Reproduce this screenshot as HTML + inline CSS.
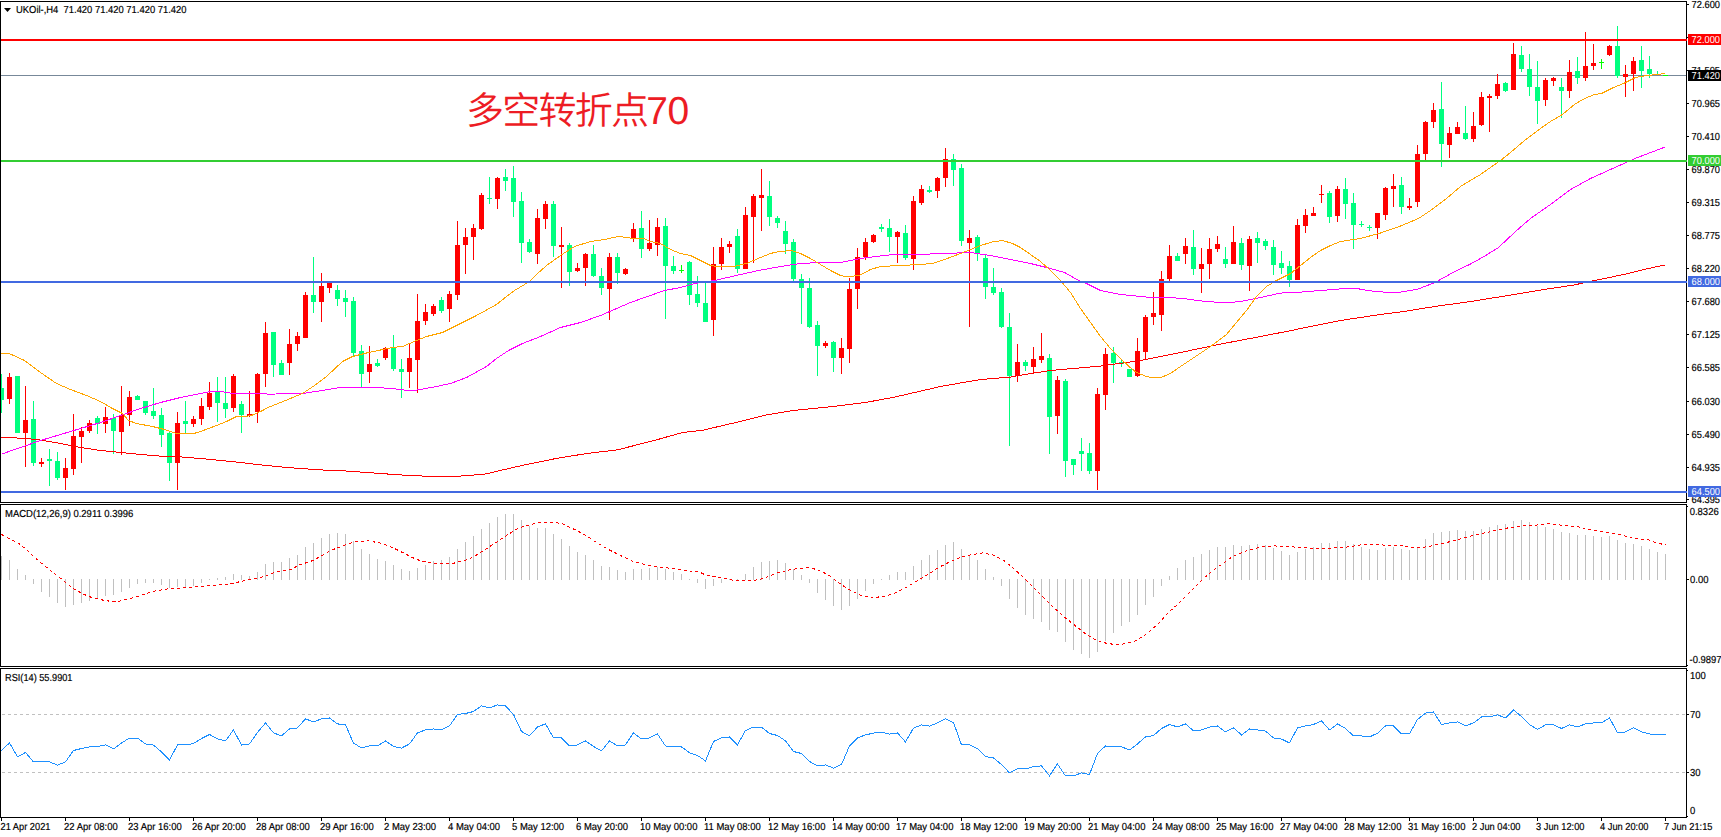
<!DOCTYPE html><html><head><meta charset="utf-8"><title>UKOil H4</title>
<style>html,body{margin:0;padding:0;background:#fff;overflow:hidden}svg{display:block}text{font-family:"Liberation Sans","Noto Sans CJK SC",sans-serif;font-size:10.2px;text-rendering:geometricPrecision;fill:#000;stroke:#000;stroke-width:0.18px}.w{fill:#fff;stroke:none}.cn{font-family:"Liberation Sans","Noto Sans CJK SC",sans-serif;font-weight:350;font-size:38px;fill:#ed1c24;stroke:none;letter-spacing:-1.75px}</style></head><body>
<svg width="1721" height="837" viewBox="0 0 1721 837" shape-rendering="crispEdges">
<rect x="0" y="0" width="1721" height="837" fill="#fff"/>
<rect x="1" y="75" width="1685" height="1" fill="#778899"/>
<rect x="1" y="374" width="1" height="39" fill="#00ff7f"/>
<rect x="1" y="388" width="3" height="12" fill="#00ff7f"/>
<rect x="9" y="373" width="1" height="31" fill="#ff0000"/>
<rect x="7" y="377" width="5" height="22" fill="#ff0000"/>
<rect x="17" y="376" width="1" height="57" fill="#00ff7f"/>
<rect x="15" y="376" width="5" height="57" fill="#00ff7f"/>
<rect x="25" y="386" width="1" height="81" fill="#ff0000"/>
<rect x="23" y="420" width="5" height="13" fill="#ff0000"/>
<rect x="33" y="401" width="1" height="65" fill="#00ff7f"/>
<rect x="31" y="419" width="5" height="44" fill="#00ff7f"/>
<rect x="41" y="458" width="1" height="9" fill="#ff0000"/>
<rect x="39" y="462" width="5" height="2" fill="#ff0000"/>
<rect x="49" y="449" width="1" height="37" fill="#00ff7f"/>
<rect x="47" y="459" width="5" height="2" fill="#00ff7f"/>
<rect x="57" y="452" width="1" height="28" fill="#00ff7f"/>
<rect x="55" y="461" width="5" height="17" fill="#00ff7f"/>
<rect x="65" y="458" width="1" height="32" fill="#ff0000"/>
<rect x="63" y="468" width="5" height="10" fill="#ff0000"/>
<rect x="73" y="414" width="1" height="61" fill="#ff0000"/>
<rect x="71" y="436" width="5" height="33" fill="#ff0000"/>
<rect x="81" y="427" width="1" height="36" fill="#ff0000"/>
<rect x="79" y="431" width="5" height="6" fill="#ff0000"/>
<rect x="89" y="420" width="1" height="13" fill="#ff0000"/>
<rect x="87" y="423" width="5" height="8" fill="#ff0000"/>
<rect x="97" y="416" width="1" height="18" fill="#00ff7f"/>
<rect x="95" y="418" width="5" height="6" fill="#00ff7f"/>
<rect x="105" y="407" width="1" height="26" fill="#ff0000"/>
<rect x="103" y="417" width="5" height="7" fill="#ff0000"/>
<rect x="113" y="414" width="1" height="40" fill="#00ff7f"/>
<rect x="111" y="418" width="5" height="13" fill="#00ff7f"/>
<rect x="121" y="386" width="1" height="69" fill="#ff0000"/>
<rect x="119" y="415" width="5" height="17" fill="#ff0000"/>
<rect x="129" y="391" width="1" height="35" fill="#ff0000"/>
<rect x="127" y="397" width="5" height="18" fill="#ff0000"/>
<rect x="137" y="395" width="1" height="5" fill="#00ff7f"/>
<rect x="135" y="396" width="5" height="4" fill="#00ff7f"/>
<rect x="145" y="401" width="1" height="14" fill="#00ff7f"/>
<rect x="143" y="401" width="5" height="12" fill="#00ff7f"/>
<rect x="153" y="388" width="1" height="31" fill="#00ff7f"/>
<rect x="151" y="411" width="5" height="5" fill="#00ff7f"/>
<rect x="161" y="408" width="1" height="39" fill="#00ff7f"/>
<rect x="159" y="415" width="5" height="20" fill="#00ff7f"/>
<rect x="169" y="432" width="1" height="49" fill="#00ff7f"/>
<rect x="167" y="433" width="5" height="30" fill="#00ff7f"/>
<rect x="177" y="412" width="1" height="78" fill="#ff0000"/>
<rect x="175" y="423" width="5" height="40" fill="#ff0000"/>
<rect x="185" y="401" width="1" height="32" fill="#00ff7f"/>
<rect x="183" y="421" width="5" height="3" fill="#00ff7f"/>
<rect x="193" y="416" width="1" height="11" fill="#ff0000"/>
<rect x="191" y="419" width="5" height="5" fill="#ff0000"/>
<rect x="201" y="398" width="1" height="27" fill="#ff0000"/>
<rect x="199" y="406" width="5" height="13" fill="#ff0000"/>
<rect x="209" y="382" width="1" height="28" fill="#ff0000"/>
<rect x="207" y="393" width="5" height="14" fill="#ff0000"/>
<rect x="217" y="377" width="1" height="45" fill="#00ff7f"/>
<rect x="215" y="392" width="5" height="11" fill="#00ff7f"/>
<rect x="225" y="377" width="1" height="41" fill="#00ff7f"/>
<rect x="223" y="403" width="5" height="6" fill="#00ff7f"/>
<rect x="233" y="374" width="1" height="38" fill="#ff0000"/>
<rect x="231" y="376" width="5" height="32" fill="#ff0000"/>
<rect x="241" y="401" width="1" height="32" fill="#00ff7f"/>
<rect x="239" y="404" width="5" height="11" fill="#00ff7f"/>
<rect x="249" y="391" width="1" height="26" fill="#ff0000"/>
<rect x="247" y="414" width="5" height="2" fill="#ff0000"/>
<rect x="257" y="373" width="1" height="50" fill="#ff0000"/>
<rect x="255" y="374" width="5" height="38" fill="#ff0000"/>
<rect x="265" y="322" width="1" height="65" fill="#ff0000"/>
<rect x="263" y="333" width="5" height="41" fill="#ff0000"/>
<rect x="273" y="332" width="1" height="45" fill="#00ff7f"/>
<rect x="271" y="332" width="5" height="33" fill="#00ff7f"/>
<rect x="281" y="360" width="1" height="15" fill="#00ff7f"/>
<rect x="279" y="363" width="5" height="12" fill="#00ff7f"/>
<rect x="289" y="329" width="1" height="46" fill="#ff0000"/>
<rect x="287" y="344" width="5" height="19" fill="#ff0000"/>
<rect x="297" y="332" width="1" height="19" fill="#ff0000"/>
<rect x="295" y="336" width="5" height="8" fill="#ff0000"/>
<rect x="305" y="292" width="1" height="46" fill="#ff0000"/>
<rect x="303" y="295" width="5" height="43" fill="#ff0000"/>
<rect x="313" y="257" width="1" height="56" fill="#00ff7f"/>
<rect x="311" y="295" width="5" height="7" fill="#00ff7f"/>
<rect x="321" y="273" width="1" height="49" fill="#ff0000"/>
<rect x="319" y="286" width="5" height="16" fill="#ff0000"/>
<rect x="329" y="281" width="1" height="12" fill="#ff0000"/>
<rect x="327" y="281" width="5" height="7" fill="#ff0000"/>
<rect x="337" y="285" width="1" height="21" fill="#00ff7f"/>
<rect x="335" y="290" width="5" height="9" fill="#00ff7f"/>
<rect x="345" y="290" width="1" height="27" fill="#00ff7f"/>
<rect x="343" y="298" width="5" height="4" fill="#00ff7f"/>
<rect x="353" y="297" width="1" height="59" fill="#00ff7f"/>
<rect x="351" y="301" width="5" height="52" fill="#00ff7f"/>
<rect x="361" y="345" width="1" height="43" fill="#00ff7f"/>
<rect x="359" y="351" width="5" height="23" fill="#00ff7f"/>
<rect x="369" y="346" width="1" height="37" fill="#ff0000"/>
<rect x="367" y="364" width="5" height="8" fill="#ff0000"/>
<rect x="377" y="359" width="1" height="8" fill="#00ff7f"/>
<rect x="375" y="363" width="5" height="3" fill="#00ff7f"/>
<rect x="385" y="347" width="1" height="13" fill="#ff0000"/>
<rect x="383" y="348" width="5" height="10" fill="#ff0000"/>
<rect x="393" y="335" width="1" height="36" fill="#00ff7f"/>
<rect x="391" y="348" width="5" height="21" fill="#00ff7f"/>
<rect x="401" y="359" width="1" height="39" fill="#00ff7f"/>
<rect x="399" y="369" width="5" height="3" fill="#00ff7f"/>
<rect x="409" y="344" width="1" height="44" fill="#ff0000"/>
<rect x="407" y="358" width="5" height="14" fill="#ff0000"/>
<rect x="417" y="294" width="1" height="99" fill="#ff0000"/>
<rect x="415" y="321" width="5" height="39" fill="#ff0000"/>
<rect x="425" y="304" width="1" height="21" fill="#ff0000"/>
<rect x="423" y="312" width="5" height="9" fill="#ff0000"/>
<rect x="433" y="304" width="1" height="12" fill="#ff0000"/>
<rect x="431" y="306" width="5" height="8" fill="#ff0000"/>
<rect x="441" y="297" width="1" height="16" fill="#00ff7f"/>
<rect x="439" y="300" width="5" height="11" fill="#00ff7f"/>
<rect x="449" y="291" width="1" height="31" fill="#ff0000"/>
<rect x="447" y="294" width="5" height="15" fill="#ff0000"/>
<rect x="457" y="221" width="1" height="79" fill="#ff0000"/>
<rect x="455" y="245" width="5" height="50" fill="#ff0000"/>
<rect x="465" y="228" width="1" height="46" fill="#ff0000"/>
<rect x="463" y="237" width="5" height="8" fill="#ff0000"/>
<rect x="473" y="224" width="1" height="36" fill="#ff0000"/>
<rect x="471" y="228" width="5" height="9" fill="#ff0000"/>
<rect x="481" y="193" width="1" height="37" fill="#ff0000"/>
<rect x="479" y="195" width="5" height="34" fill="#ff0000"/>
<rect x="489" y="177" width="1" height="27" fill="#00ff7f"/>
<rect x="487" y="198" width="5" height="1" fill="#00ff7f"/>
<rect x="497" y="177" width="1" height="32" fill="#ff0000"/>
<rect x="495" y="178" width="5" height="21" fill="#ff0000"/>
<rect x="505" y="169" width="1" height="22" fill="#00ff7f"/>
<rect x="503" y="177" width="5" height="4" fill="#00ff7f"/>
<rect x="513" y="166" width="1" height="51" fill="#00ff7f"/>
<rect x="511" y="178" width="5" height="24" fill="#00ff7f"/>
<rect x="521" y="192" width="1" height="71" fill="#00ff7f"/>
<rect x="519" y="201" width="5" height="42" fill="#00ff7f"/>
<rect x="529" y="239" width="1" height="14" fill="#00ff7f"/>
<rect x="527" y="242" width="5" height="10" fill="#00ff7f"/>
<rect x="537" y="209" width="1" height="55" fill="#ff0000"/>
<rect x="535" y="218" width="5" height="36" fill="#ff0000"/>
<rect x="545" y="201" width="1" height="28" fill="#ff0000"/>
<rect x="543" y="204" width="5" height="15" fill="#ff0000"/>
<rect x="553" y="201" width="1" height="56" fill="#00ff7f"/>
<rect x="551" y="204" width="5" height="42" fill="#00ff7f"/>
<rect x="561" y="227" width="1" height="61" fill="#ff0000"/>
<rect x="559" y="245" width="5" height="2" fill="#ff0000"/>
<rect x="569" y="243" width="1" height="43" fill="#00ff7f"/>
<rect x="567" y="245" width="5" height="27" fill="#00ff7f"/>
<rect x="577" y="263" width="1" height="9" fill="#ff0000"/>
<rect x="575" y="268" width="5" height="3" fill="#ff0000"/>
<rect x="585" y="253" width="1" height="33" fill="#ff0000"/>
<rect x="583" y="254" width="5" height="14" fill="#ff0000"/>
<rect x="593" y="245" width="1" height="32" fill="#00ff7f"/>
<rect x="591" y="254" width="5" height="22" fill="#00ff7f"/>
<rect x="601" y="268" width="1" height="27" fill="#00ff7f"/>
<rect x="599" y="276" width="5" height="12" fill="#00ff7f"/>
<rect x="609" y="253" width="1" height="67" fill="#ff0000"/>
<rect x="607" y="257" width="5" height="32" fill="#ff0000"/>
<rect x="617" y="253" width="1" height="31" fill="#00ff7f"/>
<rect x="615" y="257" width="5" height="16" fill="#00ff7f"/>
<rect x="625" y="268" width="1" height="7" fill="#ff0000"/>
<rect x="623" y="269" width="5" height="5" fill="#ff0000"/>
<rect x="633" y="223" width="1" height="19" fill="#ff0000"/>
<rect x="631" y="229" width="5" height="9" fill="#ff0000"/>
<rect x="641" y="211" width="1" height="47" fill="#00ff7f"/>
<rect x="639" y="228" width="5" height="21" fill="#00ff7f"/>
<rect x="649" y="220" width="1" height="31" fill="#ff0000"/>
<rect x="647" y="243" width="5" height="6" fill="#ff0000"/>
<rect x="657" y="218" width="1" height="38" fill="#ff0000"/>
<rect x="655" y="227" width="5" height="18" fill="#ff0000"/>
<rect x="665" y="218" width="1" height="101" fill="#00ff7f"/>
<rect x="663" y="226" width="5" height="40" fill="#00ff7f"/>
<rect x="673" y="256" width="1" height="18" fill="#00ff7f"/>
<rect x="671" y="266" width="5" height="5" fill="#00ff7f"/>
<rect x="681" y="265" width="1" height="8" fill="#00ff00"/>
<rect x="679" y="270" width="5" height="1" fill="#00ff00"/>
<rect x="689" y="261" width="1" height="44" fill="#00ff7f"/>
<rect x="687" y="262" width="5" height="33" fill="#00ff7f"/>
<rect x="697" y="276" width="1" height="31" fill="#00ff7f"/>
<rect x="695" y="294" width="5" height="9" fill="#00ff7f"/>
<rect x="705" y="283" width="1" height="39" fill="#00ff7f"/>
<rect x="703" y="303" width="5" height="19" fill="#00ff7f"/>
<rect x="713" y="247" width="1" height="89" fill="#ff0000"/>
<rect x="711" y="264" width="5" height="56" fill="#ff0000"/>
<rect x="721" y="238" width="1" height="32" fill="#ff0000"/>
<rect x="719" y="247" width="5" height="17" fill="#ff0000"/>
<rect x="729" y="241" width="1" height="12" fill="#ff0000"/>
<rect x="727" y="244" width="5" height="3" fill="#ff0000"/>
<rect x="737" y="229" width="1" height="44" fill="#00ff7f"/>
<rect x="735" y="236" width="5" height="33" fill="#00ff7f"/>
<rect x="745" y="207" width="1" height="62" fill="#ff0000"/>
<rect x="743" y="215" width="5" height="54" fill="#ff0000"/>
<rect x="753" y="194" width="1" height="69" fill="#ff0000"/>
<rect x="751" y="196" width="5" height="21" fill="#ff0000"/>
<rect x="761" y="169" width="1" height="62" fill="#ff0000"/>
<rect x="759" y="195" width="5" height="3" fill="#ff0000"/>
<rect x="769" y="181" width="1" height="45" fill="#00ff7f"/>
<rect x="767" y="196" width="5" height="21" fill="#00ff7f"/>
<rect x="777" y="216" width="1" height="12" fill="#00ff7f"/>
<rect x="775" y="218" width="5" height="5" fill="#00ff7f"/>
<rect x="785" y="221" width="1" height="33" fill="#00ff7f"/>
<rect x="783" y="231" width="5" height="13" fill="#00ff7f"/>
<rect x="793" y="239" width="1" height="42" fill="#00ff7f"/>
<rect x="791" y="242" width="5" height="37" fill="#00ff7f"/>
<rect x="801" y="274" width="1" height="50" fill="#00ff7f"/>
<rect x="799" y="279" width="5" height="9" fill="#00ff7f"/>
<rect x="809" y="278" width="1" height="50" fill="#00ff7f"/>
<rect x="807" y="288" width="5" height="39" fill="#00ff7f"/>
<rect x="817" y="321" width="1" height="55" fill="#00ff7f"/>
<rect x="815" y="325" width="5" height="21" fill="#00ff7f"/>
<rect x="825" y="341" width="1" height="7" fill="#ff0000"/>
<rect x="823" y="343" width="5" height="3" fill="#ff0000"/>
<rect x="833" y="341" width="1" height="31" fill="#00ff7f"/>
<rect x="831" y="342" width="5" height="16" fill="#00ff7f"/>
<rect x="841" y="338" width="1" height="36" fill="#ff0000"/>
<rect x="839" y="348" width="5" height="10" fill="#ff0000"/>
<rect x="849" y="278" width="1" height="85" fill="#ff0000"/>
<rect x="847" y="289" width="5" height="60" fill="#ff0000"/>
<rect x="857" y="248" width="1" height="61" fill="#ff0000"/>
<rect x="855" y="257" width="5" height="32" fill="#ff0000"/>
<rect x="865" y="238" width="1" height="22" fill="#ff0000"/>
<rect x="863" y="242" width="5" height="15" fill="#ff0000"/>
<rect x="873" y="234" width="1" height="9" fill="#ff0000"/>
<rect x="871" y="235" width="5" height="7" fill="#ff0000"/>
<rect x="881" y="224" width="1" height="8" fill="#00ff7f"/>
<rect x="879" y="227" width="5" height="2" fill="#00ff7f"/>
<rect x="889" y="219" width="1" height="33" fill="#00ff7f"/>
<rect x="887" y="228" width="5" height="9" fill="#00ff7f"/>
<rect x="897" y="231" width="1" height="32" fill="#ff0000"/>
<rect x="895" y="232" width="5" height="5" fill="#ff0000"/>
<rect x="905" y="225" width="1" height="35" fill="#00ff7f"/>
<rect x="903" y="233" width="5" height="25" fill="#00ff7f"/>
<rect x="913" y="196" width="1" height="74" fill="#ff0000"/>
<rect x="911" y="201" width="5" height="58" fill="#ff0000"/>
<rect x="921" y="185" width="1" height="20" fill="#ff0000"/>
<rect x="919" y="189" width="5" height="14" fill="#ff0000"/>
<rect x="929" y="186" width="1" height="7" fill="#00ff7f"/>
<rect x="927" y="190" width="5" height="2" fill="#00ff7f"/>
<rect x="937" y="177" width="1" height="21" fill="#ff0000"/>
<rect x="935" y="178" width="5" height="13" fill="#ff0000"/>
<rect x="945" y="148" width="1" height="39" fill="#ff0000"/>
<rect x="943" y="159" width="5" height="19" fill="#ff0000"/>
<rect x="953" y="154" width="1" height="32" fill="#00ff7f"/>
<rect x="951" y="159" width="5" height="11" fill="#00ff7f"/>
<rect x="961" y="164" width="1" height="82" fill="#00ff7f"/>
<rect x="959" y="168" width="5" height="73" fill="#00ff7f"/>
<rect x="969" y="230" width="1" height="97" fill="#ff0000"/>
<rect x="967" y="238" width="5" height="5" fill="#ff0000"/>
<rect x="977" y="235" width="1" height="26" fill="#00ff7f"/>
<rect x="975" y="237" width="5" height="16" fill="#00ff7f"/>
<rect x="985" y="255" width="1" height="44" fill="#00ff7f"/>
<rect x="983" y="258" width="5" height="29" fill="#00ff7f"/>
<rect x="993" y="268" width="1" height="27" fill="#00ff7f"/>
<rect x="991" y="287" width="5" height="6" fill="#00ff7f"/>
<rect x="1001" y="288" width="1" height="40" fill="#00ff7f"/>
<rect x="999" y="292" width="5" height="35" fill="#00ff7f"/>
<rect x="1009" y="313" width="1" height="133" fill="#00ff7f"/>
<rect x="1007" y="327" width="5" height="49" fill="#00ff7f"/>
<rect x="1017" y="344" width="1" height="38" fill="#ff0000"/>
<rect x="1015" y="362" width="5" height="14" fill="#ff0000"/>
<rect x="1025" y="360" width="1" height="11" fill="#00ff7f"/>
<rect x="1023" y="362" width="5" height="4" fill="#00ff7f"/>
<rect x="1033" y="347" width="1" height="26" fill="#ff0000"/>
<rect x="1031" y="359" width="5" height="8" fill="#ff0000"/>
<rect x="1041" y="333" width="1" height="30" fill="#ff0000"/>
<rect x="1039" y="356" width="5" height="4" fill="#ff0000"/>
<rect x="1049" y="354" width="1" height="100" fill="#00ff7f"/>
<rect x="1047" y="358" width="5" height="59" fill="#00ff7f"/>
<rect x="1057" y="376" width="1" height="58" fill="#ff0000"/>
<rect x="1055" y="380" width="5" height="36" fill="#ff0000"/>
<rect x="1065" y="379" width="1" height="98" fill="#00ff7f"/>
<rect x="1063" y="381" width="5" height="80" fill="#00ff7f"/>
<rect x="1073" y="459" width="1" height="16" fill="#00ff7f"/>
<rect x="1071" y="459" width="5" height="6" fill="#00ff7f"/>
<rect x="1081" y="438" width="1" height="33" fill="#00ff7f"/>
<rect x="1079" y="451" width="5" height="3" fill="#00ff7f"/>
<rect x="1089" y="443" width="1" height="31" fill="#00ff7f"/>
<rect x="1087" y="453" width="5" height="18" fill="#00ff7f"/>
<rect x="1097" y="388" width="1" height="102" fill="#ff0000"/>
<rect x="1095" y="394" width="5" height="77" fill="#ff0000"/>
<rect x="1105" y="348" width="1" height="62" fill="#ff0000"/>
<rect x="1103" y="354" width="5" height="41" fill="#ff0000"/>
<rect x="1113" y="347" width="1" height="36" fill="#00ff7f"/>
<rect x="1111" y="353" width="5" height="10" fill="#00ff7f"/>
<rect x="1121" y="359" width="1" height="8" fill="#00ff7f"/>
<rect x="1119" y="362" width="5" height="2" fill="#00ff7f"/>
<rect x="1129" y="369" width="1" height="8" fill="#00ff7f"/>
<rect x="1127" y="369" width="5" height="8" fill="#00ff7f"/>
<rect x="1137" y="338" width="1" height="39" fill="#ff0000"/>
<rect x="1135" y="351" width="5" height="25" fill="#ff0000"/>
<rect x="1145" y="315" width="1" height="45" fill="#ff0000"/>
<rect x="1143" y="317" width="5" height="35" fill="#ff0000"/>
<rect x="1153" y="292" width="1" height="33" fill="#ff0000"/>
<rect x="1151" y="313" width="5" height="4" fill="#ff0000"/>
<rect x="1161" y="271" width="1" height="60" fill="#ff0000"/>
<rect x="1159" y="279" width="5" height="36" fill="#ff0000"/>
<rect x="1169" y="245" width="1" height="36" fill="#ff0000"/>
<rect x="1167" y="256" width="5" height="23" fill="#ff0000"/>
<rect x="1177" y="253" width="1" height="8" fill="#00ff7f"/>
<rect x="1175" y="256" width="5" height="5" fill="#00ff7f"/>
<rect x="1185" y="238" width="1" height="26" fill="#ff0000"/>
<rect x="1183" y="246" width="5" height="8" fill="#ff0000"/>
<rect x="1193" y="230" width="1" height="45" fill="#00ff7f"/>
<rect x="1191" y="247" width="5" height="22" fill="#00ff7f"/>
<rect x="1201" y="248" width="1" height="45" fill="#ff0000"/>
<rect x="1199" y="264" width="5" height="5" fill="#ff0000"/>
<rect x="1209" y="238" width="1" height="41" fill="#ff0000"/>
<rect x="1207" y="249" width="5" height="15" fill="#ff0000"/>
<rect x="1217" y="236" width="1" height="16" fill="#ff0000"/>
<rect x="1215" y="244" width="5" height="5" fill="#ff0000"/>
<rect x="1225" y="247" width="1" height="21" fill="#00ff7f"/>
<rect x="1223" y="259" width="5" height="5" fill="#00ff7f"/>
<rect x="1233" y="226" width="1" height="38" fill="#ff0000"/>
<rect x="1231" y="242" width="5" height="22" fill="#ff0000"/>
<rect x="1241" y="238" width="1" height="32" fill="#00ff7f"/>
<rect x="1239" y="243" width="5" height="22" fill="#00ff7f"/>
<rect x="1249" y="236" width="1" height="55" fill="#ff0000"/>
<rect x="1247" y="239" width="5" height="27" fill="#ff0000"/>
<rect x="1257" y="232" width="1" height="31" fill="#00ff7f"/>
<rect x="1255" y="238" width="5" height="5" fill="#00ff7f"/>
<rect x="1265" y="239" width="1" height="11" fill="#00ff7f"/>
<rect x="1263" y="241" width="5" height="5" fill="#00ff7f"/>
<rect x="1273" y="240" width="1" height="35" fill="#00ff7f"/>
<rect x="1271" y="247" width="5" height="18" fill="#00ff7f"/>
<rect x="1281" y="251" width="1" height="23" fill="#00ff7f"/>
<rect x="1279" y="263" width="5" height="5" fill="#00ff7f"/>
<rect x="1289" y="261" width="1" height="26" fill="#00ff7f"/>
<rect x="1287" y="266" width="5" height="14" fill="#00ff7f"/>
<rect x="1297" y="219" width="1" height="61" fill="#ff0000"/>
<rect x="1295" y="225" width="5" height="55" fill="#ff0000"/>
<rect x="1305" y="209" width="1" height="24" fill="#ff0000"/>
<rect x="1303" y="215" width="5" height="11" fill="#ff0000"/>
<rect x="1313" y="207" width="1" height="9" fill="#ff0000"/>
<rect x="1311" y="213" width="5" height="3" fill="#ff0000"/>
<rect x="1321" y="185" width="1" height="18" fill="#ff0000"/>
<rect x="1319" y="194" width="5" height="1" fill="#ff0000"/>
<rect x="1329" y="191" width="1" height="32" fill="#00ff7f"/>
<rect x="1327" y="193" width="5" height="24" fill="#00ff7f"/>
<rect x="1337" y="186" width="1" height="36" fill="#ff0000"/>
<rect x="1335" y="189" width="5" height="27" fill="#ff0000"/>
<rect x="1345" y="178" width="1" height="41" fill="#00ff7f"/>
<rect x="1343" y="189" width="5" height="15" fill="#00ff7f"/>
<rect x="1353" y="193" width="1" height="56" fill="#00ff7f"/>
<rect x="1351" y="203" width="5" height="22" fill="#00ff7f"/>
<rect x="1361" y="221" width="1" height="6" fill="#00ff7f"/>
<rect x="1359" y="224" width="5" height="1" fill="#00ff7f"/>
<rect x="1369" y="225" width="1" height="6" fill="#00ff7f"/>
<rect x="1367" y="227" width="5" height="1" fill="#00ff7f"/>
<rect x="1377" y="213" width="1" height="26" fill="#ff0000"/>
<rect x="1375" y="213" width="5" height="15" fill="#ff0000"/>
<rect x="1385" y="187" width="1" height="33" fill="#ff0000"/>
<rect x="1383" y="188" width="5" height="27" fill="#ff0000"/>
<rect x="1393" y="174" width="1" height="33" fill="#ff0000"/>
<rect x="1391" y="186" width="5" height="3" fill="#ff0000"/>
<rect x="1401" y="177" width="1" height="37" fill="#00ff7f"/>
<rect x="1399" y="185" width="5" height="22" fill="#00ff7f"/>
<rect x="1409" y="198" width="1" height="12" fill="#ff0000"/>
<rect x="1407" y="206" width="5" height="2" fill="#ff0000"/>
<rect x="1417" y="145" width="1" height="62" fill="#ff0000"/>
<rect x="1415" y="154" width="5" height="48" fill="#ff0000"/>
<rect x="1425" y="121" width="1" height="39" fill="#ff0000"/>
<rect x="1423" y="122" width="5" height="32" fill="#ff0000"/>
<rect x="1433" y="103" width="1" height="25" fill="#ff0000"/>
<rect x="1431" y="110" width="5" height="12" fill="#ff0000"/>
<rect x="1441" y="82" width="1" height="85" fill="#00ff7f"/>
<rect x="1439" y="109" width="5" height="35" fill="#00ff7f"/>
<rect x="1449" y="127" width="1" height="31" fill="#ff0000"/>
<rect x="1447" y="133" width="5" height="12" fill="#ff0000"/>
<rect x="1457" y="122" width="1" height="12" fill="#ff0000"/>
<rect x="1455" y="127" width="5" height="7" fill="#ff0000"/>
<rect x="1465" y="106" width="1" height="34" fill="#00ff7f"/>
<rect x="1463" y="133" width="5" height="6" fill="#00ff7f"/>
<rect x="1473" y="112" width="1" height="30" fill="#ff0000"/>
<rect x="1471" y="126" width="5" height="13" fill="#ff0000"/>
<rect x="1481" y="92" width="1" height="34" fill="#ff0000"/>
<rect x="1479" y="97" width="5" height="28" fill="#ff0000"/>
<rect x="1489" y="94" width="1" height="38" fill="#ff0000"/>
<rect x="1487" y="96" width="5" height="2" fill="#ff0000"/>
<rect x="1497" y="74" width="1" height="25" fill="#ff0000"/>
<rect x="1495" y="84" width="5" height="12" fill="#ff0000"/>
<rect x="1505" y="82" width="1" height="10" fill="#00ff7f"/>
<rect x="1503" y="83" width="5" height="8" fill="#00ff7f"/>
<rect x="1513" y="43" width="1" height="47" fill="#ff0000"/>
<rect x="1511" y="54" width="5" height="36" fill="#ff0000"/>
<rect x="1521" y="46" width="1" height="26" fill="#00ff7f"/>
<rect x="1519" y="55" width="5" height="14" fill="#00ff7f"/>
<rect x="1529" y="54" width="1" height="42" fill="#00ff7f"/>
<rect x="1527" y="69" width="5" height="18" fill="#00ff7f"/>
<rect x="1537" y="61" width="1" height="63" fill="#00ff7f"/>
<rect x="1535" y="87" width="5" height="14" fill="#00ff7f"/>
<rect x="1545" y="78" width="1" height="28" fill="#ff0000"/>
<rect x="1543" y="80" width="5" height="20" fill="#ff0000"/>
<rect x="1553" y="77" width="1" height="9" fill="#ff0000"/>
<rect x="1551" y="78" width="5" height="3" fill="#ff0000"/>
<rect x="1561" y="78" width="1" height="40" fill="#00ff7f"/>
<rect x="1559" y="87" width="5" height="4" fill="#00ff7f"/>
<rect x="1569" y="60" width="1" height="38" fill="#ff0000"/>
<rect x="1567" y="72" width="5" height="19" fill="#ff0000"/>
<rect x="1577" y="57" width="1" height="27" fill="#00ff7f"/>
<rect x="1575" y="71" width="5" height="7" fill="#00ff7f"/>
<rect x="1585" y="32" width="1" height="49" fill="#ff0000"/>
<rect x="1583" y="66" width="5" height="12" fill="#ff0000"/>
<rect x="1593" y="44" width="1" height="26" fill="#ff0000"/>
<rect x="1591" y="63" width="5" height="3" fill="#ff0000"/>
<rect x="1601" y="59" width="1" height="10" fill="#00ff00"/>
<rect x="1599" y="62" width="5" height="1" fill="#00ff00"/>
<rect x="1609" y="45" width="1" height="11" fill="#ff0000"/>
<rect x="1607" y="46" width="5" height="9" fill="#ff0000"/>
<rect x="1617" y="26" width="1" height="52" fill="#00ff7f"/>
<rect x="1615" y="46" width="5" height="30" fill="#00ff7f"/>
<rect x="1625" y="65" width="1" height="32" fill="#ff0000"/>
<rect x="1623" y="74" width="5" height="3" fill="#ff0000"/>
<rect x="1633" y="57" width="1" height="34" fill="#ff0000"/>
<rect x="1631" y="61" width="5" height="13" fill="#ff0000"/>
<rect x="1641" y="46" width="1" height="42" fill="#00ff7f"/>
<rect x="1639" y="60" width="5" height="11" fill="#00ff7f"/>
<rect x="1649" y="56" width="1" height="22" fill="#00ff7f"/>
<rect x="1647" y="69" width="5" height="5" fill="#00ff7f"/>
<rect x="1657" y="71" width="1" height="4" fill="#00ff7f"/>
<rect x="1655" y="74" width="5" height="1" fill="#00ff7f"/>
<rect x="1665" y="75" width="1" height="1" fill="#00ff00"/>
<rect x="1663" y="75" width="5" height="1" fill="#00ff00"/>
<polyline points="0.5,437.1 26.5,438.5 40.5,440.1 60.5,443.5 80.5,447.5 100.5,450.5 120.5,452.5 140.5,454.5 160.5,456.1 180.5,456.9 200.5,458.5 220.5,460.5 240.5,462.5 260.5,464.9 280.5,466.9 300.5,468.5 320.5,469.9 344.5,470.9 376.5,473.2 399.5,474.9 425.5,476.2 458.5,476.2 484.5,474.2 520.5,465.8 555.5,458.6 585.5,453.7 617.5,449.8 653.5,440.7 682.5,432.5 702.5,430.3 734.5,422.8 767.5,414.7 793.5,410.5 832.5,406.5 865.5,402.5 895.5,396.9 940.5,386.5 980.5,379.5 1010.5,377.1 1024.5,374.5 1050.5,370.5 1100.5,366.1 1140.5,360.5 1180.5,352.5 1220.5,344.1 1260.5,336.5 1291.5,330.5 1300.5,328.5 1340.5,320.5 1380.5,314.5 1400.5,312.0 1435.5,306.4 1470.5,301.5 1505.5,295.9 1539.5,290.2 1574.5,284.9 1592.5,280.9 1609.5,277.5 1627.5,273.6 1644.5,269.3 1665.5,264.9" fill="none" stroke="#ff0000" stroke-width="1" />
<polyline points="1.5,454.1 20.5,447.5 40.5,440.5 60.5,434.5 80.5,428.5 100.5,422.5 120.5,415.5 140.5,408.5 160.5,402.5 180.5,397.5 200.5,393.5 210.5,391.5 220.5,391.5 230.5,393.1 250.5,393.5 270.5,394.1 302.5,393.5 322.5,390.5 342.5,387.1 368.5,387.1 392.5,388.5 410.5,390.9 420.5,389.5 436.5,386.5 450.5,383.5 466.5,377.5 486.5,366.5 496.5,358.5 508.5,350.5 522.5,343.5 540.5,336.5 560.5,327.5 580.5,322.5 600.5,315.5 630.5,302.5 664.5,290.5 680.5,287.5 694.5,283.5 714.5,280.5 740.5,274.5 760.5,270.1 780.5,266.5 800.5,263.5 820.5,262.5 840.5,262.5 860.5,258.5 880.5,255.9 890.5,254.9 920.5,254.5 940.5,253.5 960.5,252.9 970.5,252.5 980.5,254.1 990.5,255.5 1010.5,259.5 1030.5,263.5 1050.5,268.5 1064.5,272.5 1080.5,281.5 1086.5,283.5 1100.5,290.5 1120.5,294.5 1150.5,297.5 1180.5,298.1 1200.5,300.9 1224.5,302.9 1240.5,301.5 1260.5,297.5 1280.5,293.1 1300.5,292.1 1320.5,290.5 1340.5,288.9 1356.5,288.5 1370.5,290.9 1384.5,292.1 1400.5,292.1 1417.5,289.3 1435.5,282.3 1452.5,272.7 1470.5,264.0 1484.5,256.2 1498.5,247.5 1515.5,231.5 1530.5,218.5 1550.5,204.5 1570.5,189.5 1590.5,178.5 1610.5,169.5 1630.5,160.5 1637.5,157.5 1665.5,146.9" fill="none" stroke="#ff00ff" stroke-width="1" />
<polyline points="1.5,353.1 10.5,354.1 24.5,360.5 40.5,372.5 56.5,383.5 70.5,389.5 86.5,395.5 100.5,401.5 112.5,408.5 122.5,413.5 128.5,420.5 136.5,423.5 152.5,426.5 164.5,429.5 176.5,433.5 192.5,433.9 200.5,431.5 216.5,425.5 226.5,421.5 236.5,416.5 250.5,415.9 260.5,411.5 269.5,406.9 285.5,400.5 302.5,393.5 314.5,385.5 326.5,376.5 342.5,361.5 352.5,356.5 368.5,352.5 392.5,347.5 402.5,346.5 416.5,340.5 426.5,336.5 442.5,332.5 456.5,325.5 476.5,315.5 496.5,304.5 506.5,296.5 514.5,290.5 524.5,284.5 529.5,281.5 536.5,274.5 546.5,265.5 560.5,255.5 574.5,246.5 590.5,241.5 604.5,239.5 616.5,236.9 622.5,236.9 630.5,238.1 642.5,238.1 650.5,241.5 660.5,243.5 670.5,249.5 680.5,253.5 690.5,255.5 700.5,260.5 710.5,265.5 720.5,266.9 732.5,266.9 746.5,263.5 760.5,257.5 770.5,253.5 780.5,251.1 792.5,250.9 800.5,253.5 810.5,258.5 820.5,264.5 830.5,270.5 840.5,275.5 848.5,276.9 860.5,274.9 870.5,269.5 880.5,266.5 900.5,265.5 920.5,264.5 932.5,263.5 944.5,259.5 960.5,253.5 970.5,249.5 980.5,245.5 992.5,241.9 1002.5,240.5 1012.5,243.5 1020.5,247.5 1030.5,254.5 1040.5,261.5 1050.5,270.5 1060.5,280.5 1070.5,292.5 1080.5,308.5 1090.5,322.5 1100.5,336.5 1110.5,348.5 1120.5,358.5 1129.5,366.9 1136.5,372.5 1146.5,376.5 1154.5,377.9 1162.5,376.9 1170.5,373.5 1180.5,366.5 1192.5,358.5 1210.5,346.5 1226.5,334.5 1236.5,322.5 1246.5,310.5 1256.5,296.5 1266.5,286.5 1276.5,280.5 1290.5,273.5 1300.5,265.5 1310.5,257.5 1320.5,250.5 1330.5,245.5 1340.5,241.5 1360.5,238.5 1380.5,233.0 1400.5,226.0 1418.5,218.5 1430.5,210.5 1446.5,198.5 1460.5,186.5 1480.5,174.5 1500.5,160.5 1510.5,152.5 1524.5,140.5 1540.5,128.5 1550.5,121.5 1562.5,114.5 1574.5,104.5 1584.5,98.5 1594.5,94.5 1601.5,93.5 1613.5,87.5 1623.5,83.5 1635.5,77.5 1647.5,75.5 1657.5,74.5 1665.5,73.5" fill="none" stroke="#ffa500" stroke-width="1" />
<rect x="1" y="556" width="1" height="24" fill="#c0c0c0"/>
<rect x="9" y="560" width="1" height="20" fill="#c0c0c0"/>
<rect x="17" y="569" width="1" height="11" fill="#c0c0c0"/>
<rect x="25" y="575" width="1" height="5" fill="#c0c0c0"/>
<rect x="33" y="579" width="1" height="5" fill="#c0c0c0"/>
<rect x="41" y="579" width="1" height="13" fill="#c0c0c0"/>
<rect x="49" y="579" width="1" height="18" fill="#c0c0c0"/>
<rect x="57" y="579" width="1" height="24" fill="#c0c0c0"/>
<rect x="65" y="579" width="1" height="28" fill="#c0c0c0"/>
<rect x="73" y="579" width="1" height="26" fill="#c0c0c0"/>
<rect x="81" y="579" width="1" height="24" fill="#c0c0c0"/>
<rect x="89" y="579" width="1" height="22" fill="#c0c0c0"/>
<rect x="97" y="579" width="1" height="19" fill="#c0c0c0"/>
<rect x="105" y="579" width="1" height="17" fill="#c0c0c0"/>
<rect x="113" y="579" width="1" height="16" fill="#c0c0c0"/>
<rect x="121" y="579" width="1" height="13" fill="#c0c0c0"/>
<rect x="129" y="579" width="1" height="9" fill="#c0c0c0"/>
<rect x="137" y="579" width="1" height="5" fill="#c0c0c0"/>
<rect x="145" y="579" width="1" height="4" fill="#c0c0c0"/>
<rect x="153" y="579" width="1" height="4" fill="#c0c0c0"/>
<rect x="161" y="579" width="1" height="6" fill="#c0c0c0"/>
<rect x="169" y="579" width="1" height="9" fill="#c0c0c0"/>
<rect x="177" y="579" width="1" height="8" fill="#c0c0c0"/>
<rect x="185" y="579" width="1" height="8" fill="#c0c0c0"/>
<rect x="193" y="579" width="1" height="7" fill="#c0c0c0"/>
<rect x="201" y="579" width="1" height="4" fill="#c0c0c0"/>
<rect x="209" y="579" width="1" height="1" fill="#c0c0c0"/>
<rect x="217" y="578" width="1" height="2" fill="#c0c0c0"/>
<rect x="225" y="577" width="1" height="3" fill="#c0c0c0"/>
<rect x="233" y="574" width="1" height="6" fill="#c0c0c0"/>
<rect x="241" y="575" width="1" height="5" fill="#c0c0c0"/>
<rect x="249" y="576" width="1" height="4" fill="#c0c0c0"/>
<rect x="257" y="572" width="1" height="8" fill="#c0c0c0"/>
<rect x="265" y="564" width="1" height="16" fill="#c0c0c0"/>
<rect x="273" y="562" width="1" height="18" fill="#c0c0c0"/>
<rect x="281" y="562" width="1" height="18" fill="#c0c0c0"/>
<rect x="289" y="558" width="1" height="22" fill="#c0c0c0"/>
<rect x="297" y="555" width="1" height="25" fill="#c0c0c0"/>
<rect x="305" y="547" width="1" height="33" fill="#c0c0c0"/>
<rect x="313" y="543" width="1" height="37" fill="#c0c0c0"/>
<rect x="321" y="538" width="1" height="42" fill="#c0c0c0"/>
<rect x="329" y="534" width="1" height="46" fill="#c0c0c0"/>
<rect x="337" y="533" width="1" height="47" fill="#c0c0c0"/>
<rect x="345" y="534" width="1" height="46" fill="#c0c0c0"/>
<rect x="353" y="541" width="1" height="39" fill="#c0c0c0"/>
<rect x="361" y="549" width="1" height="31" fill="#c0c0c0"/>
<rect x="369" y="554" width="1" height="26" fill="#c0c0c0"/>
<rect x="377" y="559" width="1" height="21" fill="#c0c0c0"/>
<rect x="385" y="561" width="1" height="19" fill="#c0c0c0"/>
<rect x="393" y="565" width="1" height="15" fill="#c0c0c0"/>
<rect x="401" y="569" width="1" height="11" fill="#c0c0c0"/>
<rect x="409" y="571" width="1" height="9" fill="#c0c0c0"/>
<rect x="417" y="568" width="1" height="12" fill="#c0c0c0"/>
<rect x="425" y="565" width="1" height="15" fill="#c0c0c0"/>
<rect x="433" y="561" width="1" height="19" fill="#c0c0c0"/>
<rect x="441" y="560" width="1" height="20" fill="#c0c0c0"/>
<rect x="449" y="557" width="1" height="23" fill="#c0c0c0"/>
<rect x="457" y="549" width="1" height="31" fill="#c0c0c0"/>
<rect x="465" y="542" width="1" height="38" fill="#c0c0c0"/>
<rect x="473" y="536" width="1" height="44" fill="#c0c0c0"/>
<rect x="481" y="529" width="1" height="51" fill="#c0c0c0"/>
<rect x="489" y="523" width="1" height="57" fill="#c0c0c0"/>
<rect x="497" y="517" width="1" height="63" fill="#c0c0c0"/>
<rect x="505" y="514" width="1" height="66" fill="#c0c0c0"/>
<rect x="513" y="514" width="1" height="66" fill="#c0c0c0"/>
<rect x="521" y="520" width="1" height="60" fill="#c0c0c0"/>
<rect x="529" y="526" width="1" height="54" fill="#c0c0c0"/>
<rect x="537" y="528" width="1" height="52" fill="#c0c0c0"/>
<rect x="545" y="528" width="1" height="52" fill="#c0c0c0"/>
<rect x="553" y="534" width="1" height="46" fill="#c0c0c0"/>
<rect x="561" y="539" width="1" height="41" fill="#c0c0c0"/>
<rect x="569" y="546" width="1" height="34" fill="#c0c0c0"/>
<rect x="577" y="552" width="1" height="28" fill="#c0c0c0"/>
<rect x="585" y="555" width="1" height="25" fill="#c0c0c0"/>
<rect x="593" y="560" width="1" height="20" fill="#c0c0c0"/>
<rect x="601" y="566" width="1" height="14" fill="#c0c0c0"/>
<rect x="609" y="567" width="1" height="13" fill="#c0c0c0"/>
<rect x="617" y="570" width="1" height="10" fill="#c0c0c0"/>
<rect x="625" y="572" width="1" height="8" fill="#c0c0c0"/>
<rect x="633" y="569" width="1" height="11" fill="#c0c0c0"/>
<rect x="641" y="569" width="1" height="11" fill="#c0c0c0"/>
<rect x="649" y="568" width="1" height="12" fill="#c0c0c0"/>
<rect x="657" y="567" width="1" height="13" fill="#c0c0c0"/>
<rect x="665" y="569" width="1" height="11" fill="#c0c0c0"/>
<rect x="673" y="572" width="1" height="8" fill="#c0c0c0"/>
<rect x="681" y="574" width="1" height="6" fill="#c0c0c0"/>
<rect x="689" y="579" width="1" height="1" fill="#c0c0c0"/>
<rect x="697" y="579" width="1" height="4" fill="#c0c0c0"/>
<rect x="705" y="579" width="1" height="10" fill="#c0c0c0"/>
<rect x="713" y="579" width="1" height="7" fill="#c0c0c0"/>
<rect x="721" y="579" width="1" height="4" fill="#c0c0c0"/>
<rect x="729" y="579" width="1" height="1" fill="#c0c0c0"/>
<rect x="737" y="579" width="1" height="1" fill="#c0c0c0"/>
<rect x="745" y="574" width="1" height="6" fill="#c0c0c0"/>
<rect x="753" y="567" width="1" height="13" fill="#c0c0c0"/>
<rect x="761" y="562" width="1" height="18" fill="#c0c0c0"/>
<rect x="769" y="561" width="1" height="19" fill="#c0c0c0"/>
<rect x="777" y="560" width="1" height="20" fill="#c0c0c0"/>
<rect x="785" y="563" width="1" height="17" fill="#c0c0c0"/>
<rect x="793" y="569" width="1" height="11" fill="#c0c0c0"/>
<rect x="801" y="575" width="1" height="5" fill="#c0c0c0"/>
<rect x="809" y="579" width="1" height="4" fill="#c0c0c0"/>
<rect x="817" y="579" width="1" height="14" fill="#c0c0c0"/>
<rect x="825" y="579" width="1" height="21" fill="#c0c0c0"/>
<rect x="833" y="579" width="1" height="27" fill="#c0c0c0"/>
<rect x="841" y="579" width="1" height="31" fill="#c0c0c0"/>
<rect x="849" y="579" width="1" height="27" fill="#c0c0c0"/>
<rect x="857" y="579" width="1" height="20" fill="#c0c0c0"/>
<rect x="865" y="579" width="1" height="12" fill="#c0c0c0"/>
<rect x="873" y="579" width="1" height="5" fill="#c0c0c0"/>
<rect x="881" y="579" width="1" height="1" fill="#c0c0c0"/>
<rect x="889" y="575" width="1" height="5" fill="#c0c0c0"/>
<rect x="897" y="572" width="1" height="8" fill="#c0c0c0"/>
<rect x="905" y="572" width="1" height="8" fill="#c0c0c0"/>
<rect x="913" y="566" width="1" height="14" fill="#c0c0c0"/>
<rect x="921" y="560" width="1" height="20" fill="#c0c0c0"/>
<rect x="929" y="555" width="1" height="25" fill="#c0c0c0"/>
<rect x="937" y="550" width="1" height="30" fill="#c0c0c0"/>
<rect x="945" y="545" width="1" height="35" fill="#c0c0c0"/>
<rect x="953" y="542" width="1" height="38" fill="#c0c0c0"/>
<rect x="961" y="549" width="1" height="31" fill="#c0c0c0"/>
<rect x="969" y="555" width="1" height="25" fill="#c0c0c0"/>
<rect x="977" y="560" width="1" height="20" fill="#c0c0c0"/>
<rect x="985" y="569" width="1" height="11" fill="#c0c0c0"/>
<rect x="993" y="577" width="1" height="3" fill="#c0c0c0"/>
<rect x="1001" y="579" width="1" height="7" fill="#c0c0c0"/>
<rect x="1009" y="579" width="1" height="20" fill="#c0c0c0"/>
<rect x="1017" y="579" width="1" height="29" fill="#c0c0c0"/>
<rect x="1025" y="579" width="1" height="36" fill="#c0c0c0"/>
<rect x="1033" y="579" width="1" height="40" fill="#c0c0c0"/>
<rect x="1041" y="579" width="1" height="43" fill="#c0c0c0"/>
<rect x="1049" y="579" width="1" height="51" fill="#c0c0c0"/>
<rect x="1057" y="579" width="1" height="53" fill="#c0c0c0"/>
<rect x="1065" y="579" width="1" height="63" fill="#c0c0c0"/>
<rect x="1073" y="579" width="1" height="71" fill="#c0c0c0"/>
<rect x="1081" y="579" width="1" height="75" fill="#c0c0c0"/>
<rect x="1089" y="579" width="1" height="79" fill="#c0c0c0"/>
<rect x="1097" y="579" width="1" height="73" fill="#c0c0c0"/>
<rect x="1105" y="579" width="1" height="62" fill="#c0c0c0"/>
<rect x="1113" y="579" width="1" height="54" fill="#c0c0c0"/>
<rect x="1121" y="579" width="1" height="47" fill="#c0c0c0"/>
<rect x="1129" y="579" width="1" height="43" fill="#c0c0c0"/>
<rect x="1137" y="579" width="1" height="36" fill="#c0c0c0"/>
<rect x="1145" y="579" width="1" height="26" fill="#c0c0c0"/>
<rect x="1153" y="579" width="1" height="18" fill="#c0c0c0"/>
<rect x="1161" y="579" width="1" height="7" fill="#c0c0c0"/>
<rect x="1169" y="576" width="1" height="4" fill="#c0c0c0"/>
<rect x="1177" y="568" width="1" height="12" fill="#c0c0c0"/>
<rect x="1185" y="560" width="1" height="20" fill="#c0c0c0"/>
<rect x="1193" y="557" width="1" height="23" fill="#c0c0c0"/>
<rect x="1201" y="554" width="1" height="26" fill="#c0c0c0"/>
<rect x="1209" y="550" width="1" height="30" fill="#c0c0c0"/>
<rect x="1217" y="547" width="1" height="33" fill="#c0c0c0"/>
<rect x="1225" y="547" width="1" height="33" fill="#c0c0c0"/>
<rect x="1233" y="545" width="1" height="35" fill="#c0c0c0"/>
<rect x="1241" y="546" width="1" height="34" fill="#c0c0c0"/>
<rect x="1249" y="545" width="1" height="35" fill="#c0c0c0"/>
<rect x="1257" y="544" width="1" height="36" fill="#c0c0c0"/>
<rect x="1265" y="545" width="1" height="35" fill="#c0c0c0"/>
<rect x="1273" y="548" width="1" height="32" fill="#c0c0c0"/>
<rect x="1281" y="551" width="1" height="29" fill="#c0c0c0"/>
<rect x="1289" y="555" width="1" height="25" fill="#c0c0c0"/>
<rect x="1297" y="552" width="1" height="28" fill="#c0c0c0"/>
<rect x="1305" y="549" width="1" height="31" fill="#c0c0c0"/>
<rect x="1313" y="547" width="1" height="33" fill="#c0c0c0"/>
<rect x="1321" y="543" width="1" height="37" fill="#c0c0c0"/>
<rect x="1329" y="543" width="1" height="37" fill="#c0c0c0"/>
<rect x="1337" y="541" width="1" height="39" fill="#c0c0c0"/>
<rect x="1345" y="541" width="1" height="39" fill="#c0c0c0"/>
<rect x="1353" y="544" width="1" height="36" fill="#c0c0c0"/>
<rect x="1361" y="547" width="1" height="33" fill="#c0c0c0"/>
<rect x="1369" y="549" width="1" height="31" fill="#c0c0c0"/>
<rect x="1377" y="550" width="1" height="30" fill="#c0c0c0"/>
<rect x="1385" y="548" width="1" height="32" fill="#c0c0c0"/>
<rect x="1393" y="547" width="1" height="33" fill="#c0c0c0"/>
<rect x="1401" y="549" width="1" height="31" fill="#c0c0c0"/>
<rect x="1409" y="550" width="1" height="30" fill="#c0c0c0"/>
<rect x="1417" y="548" width="1" height="32" fill="#c0c0c0"/>
<rect x="1425" y="539" width="1" height="41" fill="#c0c0c0"/>
<rect x="1433" y="533" width="1" height="47" fill="#c0c0c0"/>
<rect x="1441" y="532" width="1" height="48" fill="#c0c0c0"/>
<rect x="1449" y="531" width="1" height="49" fill="#c0c0c0"/>
<rect x="1457" y="530" width="1" height="50" fill="#c0c0c0"/>
<rect x="1465" y="531" width="1" height="49" fill="#c0c0c0"/>
<rect x="1473" y="531" width="1" height="49" fill="#c0c0c0"/>
<rect x="1481" y="529" width="1" height="51" fill="#c0c0c0"/>
<rect x="1489" y="527" width="1" height="53" fill="#c0c0c0"/>
<rect x="1497" y="525" width="1" height="55" fill="#c0c0c0"/>
<rect x="1505" y="524" width="1" height="56" fill="#c0c0c0"/>
<rect x="1513" y="521" width="1" height="59" fill="#c0c0c0"/>
<rect x="1521" y="520" width="1" height="60" fill="#c0c0c0"/>
<rect x="1529" y="522" width="1" height="58" fill="#c0c0c0"/>
<rect x="1537" y="526" width="1" height="54" fill="#c0c0c0"/>
<rect x="1545" y="527" width="1" height="53" fill="#c0c0c0"/>
<rect x="1553" y="529" width="1" height="51" fill="#c0c0c0"/>
<rect x="1561" y="532" width="1" height="48" fill="#c0c0c0"/>
<rect x="1569" y="533" width="1" height="47" fill="#c0c0c0"/>
<rect x="1577" y="535" width="1" height="45" fill="#c0c0c0"/>
<rect x="1585" y="535" width="1" height="45" fill="#c0c0c0"/>
<rect x="1593" y="536" width="1" height="44" fill="#c0c0c0"/>
<rect x="1601" y="537" width="1" height="43" fill="#c0c0c0"/>
<rect x="1609" y="536" width="1" height="44" fill="#c0c0c0"/>
<rect x="1617" y="540" width="1" height="40" fill="#c0c0c0"/>
<rect x="1625" y="543" width="1" height="37" fill="#c0c0c0"/>
<rect x="1633" y="544" width="1" height="36" fill="#c0c0c0"/>
<rect x="1641" y="546" width="1" height="34" fill="#c0c0c0"/>
<rect x="1649" y="549" width="1" height="31" fill="#c0c0c0"/>
<rect x="1657" y="552" width="1" height="28" fill="#c0c0c0"/>
<rect x="1665" y="554" width="1" height="26" fill="#c0c0c0"/>
<polyline points="1.5,534.5 20.5,544.5 40.5,562.5 64.5,581.5 74.5,589.5 88.5,596.5 104.5,600.5 115.5,601.9 128.5,599.1 140.5,595.5 152.5,591.5 170.5,588.5 190.5,587.5 210.5,585.5 228.5,584.5 240.5,581.5 250.5,579.5 264.5,576.5 276.5,571.5 290.5,569.5 300.5,564.5 310.5,561.5 320.5,556.5 330.5,550.5 344.5,545.3 354.5,541.9 368.5,540.9 380.5,543.1 392.5,547.5 404.5,553.5 416.5,559.5 428.5,562.5 440.5,563.9 452.5,563.5 464.5,560.5 472.5,557.5 482.5,551.1 494.5,543.5 506.5,535.5 518.5,528.1 530.5,524.5 542.5,522.1 552.5,522.1 562.5,523.9 572.5,528.5 584.5,534.5 596.5,542.5 608.5,549.5 620.5,555.5 632.5,561.1 644.5,564.5 656.5,566.5 668.5,568.1 688.5,570.9 698.5,571.5 706.5,575.5 722.5,577.9 736.5,580.9 752.5,580.9 764.5,578.1 776.5,573.1 788.5,570.1 800.5,568.1 810.5,567.9 818.5,570.1 828.5,574.9 842.5,585.5 854.5,592.5 862.5,595.9 872.5,597.9 884.5,596.1 892.5,594.1 904.5,588.5 914.5,582.5 926.5,575.5 938.5,567.5 950.5,561.5 962.5,556.5 972.5,554.5 982.5,552.9 992.5,554.9 1002.5,559.5 1012.5,567.5 1022.5,576.5 1033.5,587.5 1042.5,596.5 1052.5,606.5 1062.5,615.5 1072.5,623.5 1082.5,631.5 1092.5,638.5 1102.5,642.5 1114.5,644.5 1124.5,643.9 1136.5,640.5 1148.5,632.5 1160.5,621.5 1168.5,612.5 1178.5,603.5 1190.5,591.5 1202.5,579.5 1212.5,570.5 1224.5,562.5 1232.5,556.5 1244.5,551.5 1256.5,548.1 1264.5,546.5 1274.5,545.9 1292.5,546.9 1310.5,548.1 1316.5,548.9 1332.5,548.1 1348.5,546.9 1360.5,544.9 1376.5,544.9 1388.5,545.1 1404.5,545.9 1416.5,547.9 1426.5,546.9 1440.5,543.9 1456.5,540.1 1472.5,535.5 1488.5,532.1 1504.5,528.5 1520.5,525.9 1536.5,525.1 1548.5,523.9 1560.5,525.1 1576.5,526.5 1592.5,530.1 1608.5,532.5 1620.5,534.9 1632.5,538.1 1648.5,539.9 1656.5,542.9 1665.5,544.9" fill="none" stroke="#ff0000" stroke-width="1" stroke-dasharray="3 3"/>
<line x1="2" y1="714.5" x2="1686" y2="714.5" stroke="#c0c0c0" stroke-width="1" stroke-dasharray="3 3"/>
<line x1="2" y1="772.5" x2="1686" y2="772.5" stroke="#c0c0c0" stroke-width="1" stroke-dasharray="3 3"/>
<polyline points="1.5,750.5 9.5,742.9 17.5,756.9 25.5,752.5 33.5,761.9 41.5,761.9 49.5,761.9 57.5,765.1 65.5,761.9 73.5,750.5 81.5,748.5 89.5,746.9 97.5,746.5 105.5,744.9 113.5,748.9 121.5,742.9 129.5,738.1 137.5,738.1 145.5,743.9 153.5,745.1 161.5,751.9 169.5,759.9 177.5,744.9 185.5,744.9 193.5,743.5 201.5,738.5 209.5,734.5 217.5,738.9 225.5,740.9 233.5,729.9 241.5,745.1 249.5,743.9 257.5,732.5 265.5,722.9 273.5,732.9 281.5,735.9 289.5,728.9 297.5,727.9 305.5,718.9 313.5,721.9 321.5,718.9 329.5,717.9 337.5,723.9 345.5,724.8 353.5,743.1 361.5,747.9 369.5,745.9 377.5,745.9 385.5,740.9 393.5,746.5 401.5,748.1 409.5,743.9 417.5,732.9 425.5,729.9 433.5,728.9 441.5,729.9 449.5,725.9 457.5,714.5 465.5,713.5 473.5,711.5 481.5,705.9 489.5,707.9 497.5,704.9 505.5,705.9 513.5,714.5 521.5,731.5 529.5,735.9 537.5,726.9 545.5,723.9 553.5,737.9 561.5,737.9 569.5,745.9 577.5,744.9 585.5,740.9 593.5,746.5 601.5,750.9 609.5,740.9 617.5,745.9 625.5,744.9 633.5,732.9 641.5,738.9 649.5,737.9 657.5,733.9 665.5,745.9 673.5,746.9 681.5,746.9 689.5,752.7 697.5,755.5 705.5,760.9 713.5,741.5 721.5,737.9 729.5,736.9 737.5,744.9 745.5,730.5 753.5,727.1 761.5,727.1 769.5,733.5 777.5,735.5 785.5,740.9 793.5,751.5 801.5,753.5 809.5,761.5 817.5,765.9 825.5,764.9 833.5,768.1 841.5,764.5 849.5,745.9 857.5,737.9 865.5,734.9 873.5,733.1 881.5,732.1 889.5,734.1 897.5,732.9 905.5,741.9 913.5,728.1 921.5,724.9 929.5,726.1 937.5,722.9 945.5,718.9 953.5,722.5 961.5,744.9 969.5,744.9 977.5,748.5 985.5,756.5 993.5,757.9 1001.5,764.5 1009.5,772.9 1017.5,768.9 1025.5,768.9 1033.5,766.7 1041.5,765.9 1049.5,775.9 1057.5,763.9 1065.5,775.9 1073.5,775.9 1081.5,772.9 1089.5,774.5 1097.5,753.5 1105.5,745.9 1113.5,746.9 1121.5,746.9 1129.5,749.9 1137.5,743.9 1145.5,736.9 1153.5,735.5 1161.5,728.5 1169.5,724.5 1177.5,726.9 1185.5,723.9 1193.5,730.9 1201.5,729.9 1209.5,727.1 1217.5,725.9 1225.5,731.9 1233.5,727.9 1241.5,734.9 1249.5,728.9 1257.5,729.9 1265.5,731.1 1273.5,737.9 1281.5,739.1 1289.5,742.9 1297.5,727.9 1305.5,725.9 1313.5,724.5 1321.5,720.9 1329.5,729.9 1337.5,723.9 1345.5,728.5 1353.5,735.9 1361.5,735.9 1369.5,736.9 1377.5,733.2 1385.5,725.9 1393.5,725.9 1401.5,733.9 1409.5,733.9 1417.5,719.5 1425.5,713.1 1433.5,711.9 1441.5,724.5 1449.5,722.9 1457.5,721.9 1465.5,725.9 1473.5,722.9 1481.5,716.9 1489.5,716.9 1497.5,714.9 1505.5,717.9 1513.5,709.9 1521.5,716.5 1529.5,724.5 1537.5,729.5 1545.5,724.9 1553.5,724.9 1561.5,728.5 1569.5,724.9 1577.5,726.9 1585.5,723.9 1593.5,722.9 1601.5,722.9 1609.5,717.9 1617.5,732.9 1625.5,731.9 1633.5,727.9 1641.5,731.9 1649.5,733.9 1657.5,734.9 1665.5,734.9" fill="none" stroke="#1e90ff" stroke-width="1" />
<rect x="0" y="1" width="1687" height="1" fill="#000"/>
<rect x="0" y="1" width="1" height="502" fill="#000"/>
<rect x="0" y="502" width="1687" height="1" fill="#000"/>
<rect x="1686" y="1" width="1" height="502" fill="#000"/>
<rect x="0" y="504" width="1687" height="1" fill="#000"/>
<rect x="0" y="504" width="1" height="163" fill="#000"/>
<rect x="0" y="666" width="1687" height="1" fill="#000"/>
<rect x="1686" y="504" width="1" height="163" fill="#000"/>
<rect x="0" y="668" width="1687" height="1" fill="#000"/>
<rect x="0" y="668" width="1" height="150" fill="#000"/>
<rect x="0" y="817" width="1687" height="1" fill="#000"/>
<rect x="1686" y="668" width="1" height="150" fill="#000"/>
<rect x="1" y="39" width="1686" height="2" fill="#ff0000"/>
<rect x="1" y="160" width="1686" height="2" fill="#32cd32"/>
<rect x="1" y="281" width="1686" height="2" fill="#4169e1"/>
<rect x="1" y="491" width="1686" height="2" fill="#4169e1"/>
<rect x="1687" y="4" width="2" height="1" fill="#000"/>
<text transform="translate(1691.6 8) scale(0.93 1)" textLength="30.54" lengthAdjust="spacingAndGlyphs">72.600</text>
<rect x="1687" y="37" width="2" height="1" fill="#000"/>
<rect x="1687" y="70" width="2" height="1" fill="#000"/>
<text transform="translate(1691.6 74) scale(0.93 1)" textLength="30.54" lengthAdjust="spacingAndGlyphs">71.505</text>
<rect x="1687" y="103" width="2" height="1" fill="#000"/>
<text transform="translate(1691.6 107) scale(0.93 1)" textLength="30.54" lengthAdjust="spacingAndGlyphs">70.965</text>
<rect x="1687" y="136" width="2" height="1" fill="#000"/>
<text transform="translate(1691.6 140) scale(0.93 1)" textLength="30.54" lengthAdjust="spacingAndGlyphs">70.410</text>
<rect x="1687" y="169" width="2" height="1" fill="#000"/>
<text transform="translate(1691.6 173) scale(0.93 1)" textLength="30.54" lengthAdjust="spacingAndGlyphs">69.870</text>
<rect x="1687" y="202" width="2" height="1" fill="#000"/>
<text transform="translate(1691.6 206) scale(0.93 1)" textLength="30.54" lengthAdjust="spacingAndGlyphs">69.315</text>
<rect x="1687" y="235" width="2" height="1" fill="#000"/>
<text transform="translate(1691.6 239) scale(0.93 1)" textLength="30.54" lengthAdjust="spacingAndGlyphs">68.775</text>
<rect x="1687" y="268" width="2" height="1" fill="#000"/>
<text transform="translate(1691.6 272) scale(0.93 1)" textLength="30.54" lengthAdjust="spacingAndGlyphs">68.220</text>
<rect x="1687" y="301" width="2" height="1" fill="#000"/>
<text transform="translate(1691.6 305) scale(0.93 1)" textLength="30.54" lengthAdjust="spacingAndGlyphs">67.680</text>
<rect x="1687" y="334" width="2" height="1" fill="#000"/>
<text transform="translate(1691.6 338) scale(0.93 1)" textLength="30.54" lengthAdjust="spacingAndGlyphs">67.125</text>
<rect x="1687" y="367" width="2" height="1" fill="#000"/>
<text transform="translate(1691.6 371) scale(0.93 1)" textLength="30.54" lengthAdjust="spacingAndGlyphs">66.585</text>
<rect x="1687" y="401" width="2" height="1" fill="#000"/>
<text transform="translate(1691.6 405) scale(0.93 1)" textLength="30.54" lengthAdjust="spacingAndGlyphs">66.030</text>
<rect x="1687" y="434" width="2" height="1" fill="#000"/>
<text transform="translate(1691.6 438) scale(0.93 1)" textLength="30.54" lengthAdjust="spacingAndGlyphs">65.490</text>
<rect x="1687" y="467" width="2" height="1" fill="#000"/>
<text transform="translate(1691.6 471) scale(0.93 1)" textLength="30.54" lengthAdjust="spacingAndGlyphs">64.935</text>
<rect x="1687" y="499" width="2" height="1" fill="#000"/>
<text transform="translate(1691.6 503) scale(0.93 1)" textLength="30.54" lengthAdjust="spacingAndGlyphs">64.395</text>
<rect x="1688" y="34" width="33" height="11" fill="#ff0000"/>
<text transform="translate(1691.6 43) scale(0.93 1)" class="w" textLength="30.54" lengthAdjust="spacingAndGlyphs">72.000</text>
<rect x="1688" y="70" width="33" height="11" fill="#000000"/>
<text transform="translate(1691.6 79) scale(0.93 1)" class="w" textLength="30.54" lengthAdjust="spacingAndGlyphs">71.420</text>
<rect x="1688" y="155" width="33" height="11" fill="#32cd32"/>
<text transform="translate(1691.6 164) scale(0.93 1)" class="w" textLength="30.54" lengthAdjust="spacingAndGlyphs">70.000</text>
<rect x="1688" y="276" width="33" height="11" fill="#4169e1"/>
<text transform="translate(1691.6 285) scale(0.93 1)" class="w" textLength="30.54" lengthAdjust="spacingAndGlyphs">68.000</text>
<rect x="1688" y="486" width="33" height="11" fill="#4169e1"/>
<text transform="translate(1691.6 495) scale(0.93 1)" class="w" textLength="30.54" lengthAdjust="spacingAndGlyphs">64.500</text>
<rect x="1687" y="506" width="1" height="1" fill="#000"/>
<text transform="translate(1689.7 515) scale(0.93 1)">0.8326</text>
<rect x="1687" y="579" width="2" height="1" fill="#000"/>
<text transform="translate(1690 583) scale(0.93 1)">0.00</text>
<rect x="1687" y="665" width="1" height="1" fill="#000"/>
<text transform="translate(1689.5 663) scale(0.93 1)">-0.9897</text>
<rect x="1687" y="670" width="1" height="1" fill="#000"/>
<text transform="translate(1690 679) scale(0.93 1)">100</text>
<rect x="1687" y="714" width="2" height="1" fill="#000"/>
<text transform="translate(1690 718) scale(0.93 1)">70</text>
<rect x="1687" y="772" width="2" height="1" fill="#000"/>
<text transform="translate(1690 776) scale(0.93 1)">30</text>
<rect x="1687" y="816" width="1" height="1" fill="#000"/>
<text transform="translate(1690 814) scale(0.93 1)">0</text>
<rect x="1" y="818" width="1" height="3" fill="#000"/>
<text transform="translate(0.5 830) scale(0.93 1)" textLength="53.76" lengthAdjust="spacingAndGlyphs">21 Apr 2021</text>
<rect x="65" y="818" width="1" height="3" fill="#000"/>
<text transform="translate(64 830) scale(0.93 1)">22 Apr 08:00</text>
<rect x="129" y="818" width="1" height="3" fill="#000"/>
<text transform="translate(128 830) scale(0.93 1)">23 Apr 16:00</text>
<rect x="193" y="818" width="1" height="3" fill="#000"/>
<text transform="translate(192 830) scale(0.93 1)">26 Apr 20:00</text>
<rect x="257" y="818" width="1" height="3" fill="#000"/>
<text transform="translate(256 830) scale(0.93 1)">28 Apr 08:00</text>
<rect x="321" y="818" width="1" height="3" fill="#000"/>
<text transform="translate(320 830) scale(0.93 1)">29 Apr 16:00</text>
<rect x="385" y="818" width="1" height="3" fill="#000"/>
<text transform="translate(384 830) scale(0.93 1)">2 May 23:00</text>
<rect x="449" y="818" width="1" height="3" fill="#000"/>
<text transform="translate(448 830) scale(0.93 1)">4 May 04:00</text>
<rect x="513" y="818" width="1" height="3" fill="#000"/>
<text transform="translate(512 830) scale(0.93 1)">5 May 12:00</text>
<rect x="577" y="818" width="1" height="3" fill="#000"/>
<text transform="translate(576 830) scale(0.93 1)">6 May 20:00</text>
<rect x="641" y="818" width="1" height="3" fill="#000"/>
<text transform="translate(640 830) scale(0.93 1)">10 May 00:00</text>
<rect x="705" y="818" width="1" height="3" fill="#000"/>
<text transform="translate(704 830) scale(0.93 1)">11 May 08:00</text>
<rect x="769" y="818" width="1" height="3" fill="#000"/>
<text transform="translate(768 830) scale(0.93 1)">12 May 16:00</text>
<rect x="833" y="818" width="1" height="3" fill="#000"/>
<text transform="translate(832 830) scale(0.93 1)">14 May 00:00</text>
<rect x="897" y="818" width="1" height="3" fill="#000"/>
<text transform="translate(896 830) scale(0.93 1)">17 May 04:00</text>
<rect x="961" y="818" width="1" height="3" fill="#000"/>
<text transform="translate(960 830) scale(0.93 1)">18 May 12:00</text>
<rect x="1025" y="818" width="1" height="3" fill="#000"/>
<text transform="translate(1024 830) scale(0.93 1)">19 May 20:00</text>
<rect x="1089" y="818" width="1" height="3" fill="#000"/>
<text transform="translate(1088 830) scale(0.93 1)">21 May 04:00</text>
<rect x="1153" y="818" width="1" height="3" fill="#000"/>
<text transform="translate(1152 830) scale(0.93 1)">24 May 08:00</text>
<rect x="1217" y="818" width="1" height="3" fill="#000"/>
<text transform="translate(1216 830) scale(0.93 1)">25 May 16:00</text>
<rect x="1281" y="818" width="1" height="3" fill="#000"/>
<text transform="translate(1280 830) scale(0.93 1)">27 May 04:00</text>
<rect x="1345" y="818" width="1" height="3" fill="#000"/>
<text transform="translate(1344 830) scale(0.93 1)">28 May 12:00</text>
<rect x="1409" y="818" width="1" height="3" fill="#000"/>
<text transform="translate(1408 830) scale(0.93 1)">31 May 16:00</text>
<rect x="1473" y="818" width="1" height="3" fill="#000"/>
<text transform="translate(1472 830) scale(0.93 1)" textLength="52.15" lengthAdjust="spacingAndGlyphs">2 Jun 04:00</text>
<rect x="1537" y="818" width="1" height="3" fill="#000"/>
<text transform="translate(1536 830) scale(0.93 1)" textLength="52.15" lengthAdjust="spacingAndGlyphs">3 Jun 12:00</text>
<rect x="1601" y="818" width="1" height="3" fill="#000"/>
<text transform="translate(1600 830) scale(0.93 1)" textLength="52.15" lengthAdjust="spacingAndGlyphs">4 Jun 20:00</text>
<rect x="1665" y="818" width="1" height="3" fill="#000"/>
<text transform="translate(1664 830) scale(0.93 1)" textLength="52.15" lengthAdjust="spacingAndGlyphs">7 Jun 21:15</text>
<polygon points="4,8 11,8 7.5,12" fill="#000" shape-rendering="geometricPrecision"/>
<text transform="translate(16 13) scale(0.93 1)" textLength="183.33" lengthAdjust="spacingAndGlyphs">UKOil-,H4&#160; 71.420 71.420 71.420 71.420</text>
<text transform="translate(5 517) scale(0.93 1)">MACD(12,26,9) 0.2911 0.3996</text>
<text transform="translate(5 681) scale(0.93 1)" textLength="72.58" lengthAdjust="spacingAndGlyphs">RSI(14) 55.9901</text>
<text x="466" y="124" class="cn">多空转折点<tspan dx="-1" style="font-size:39px;letter-spacing:-0.5px">70</tspan></text>
</svg></body></html>
